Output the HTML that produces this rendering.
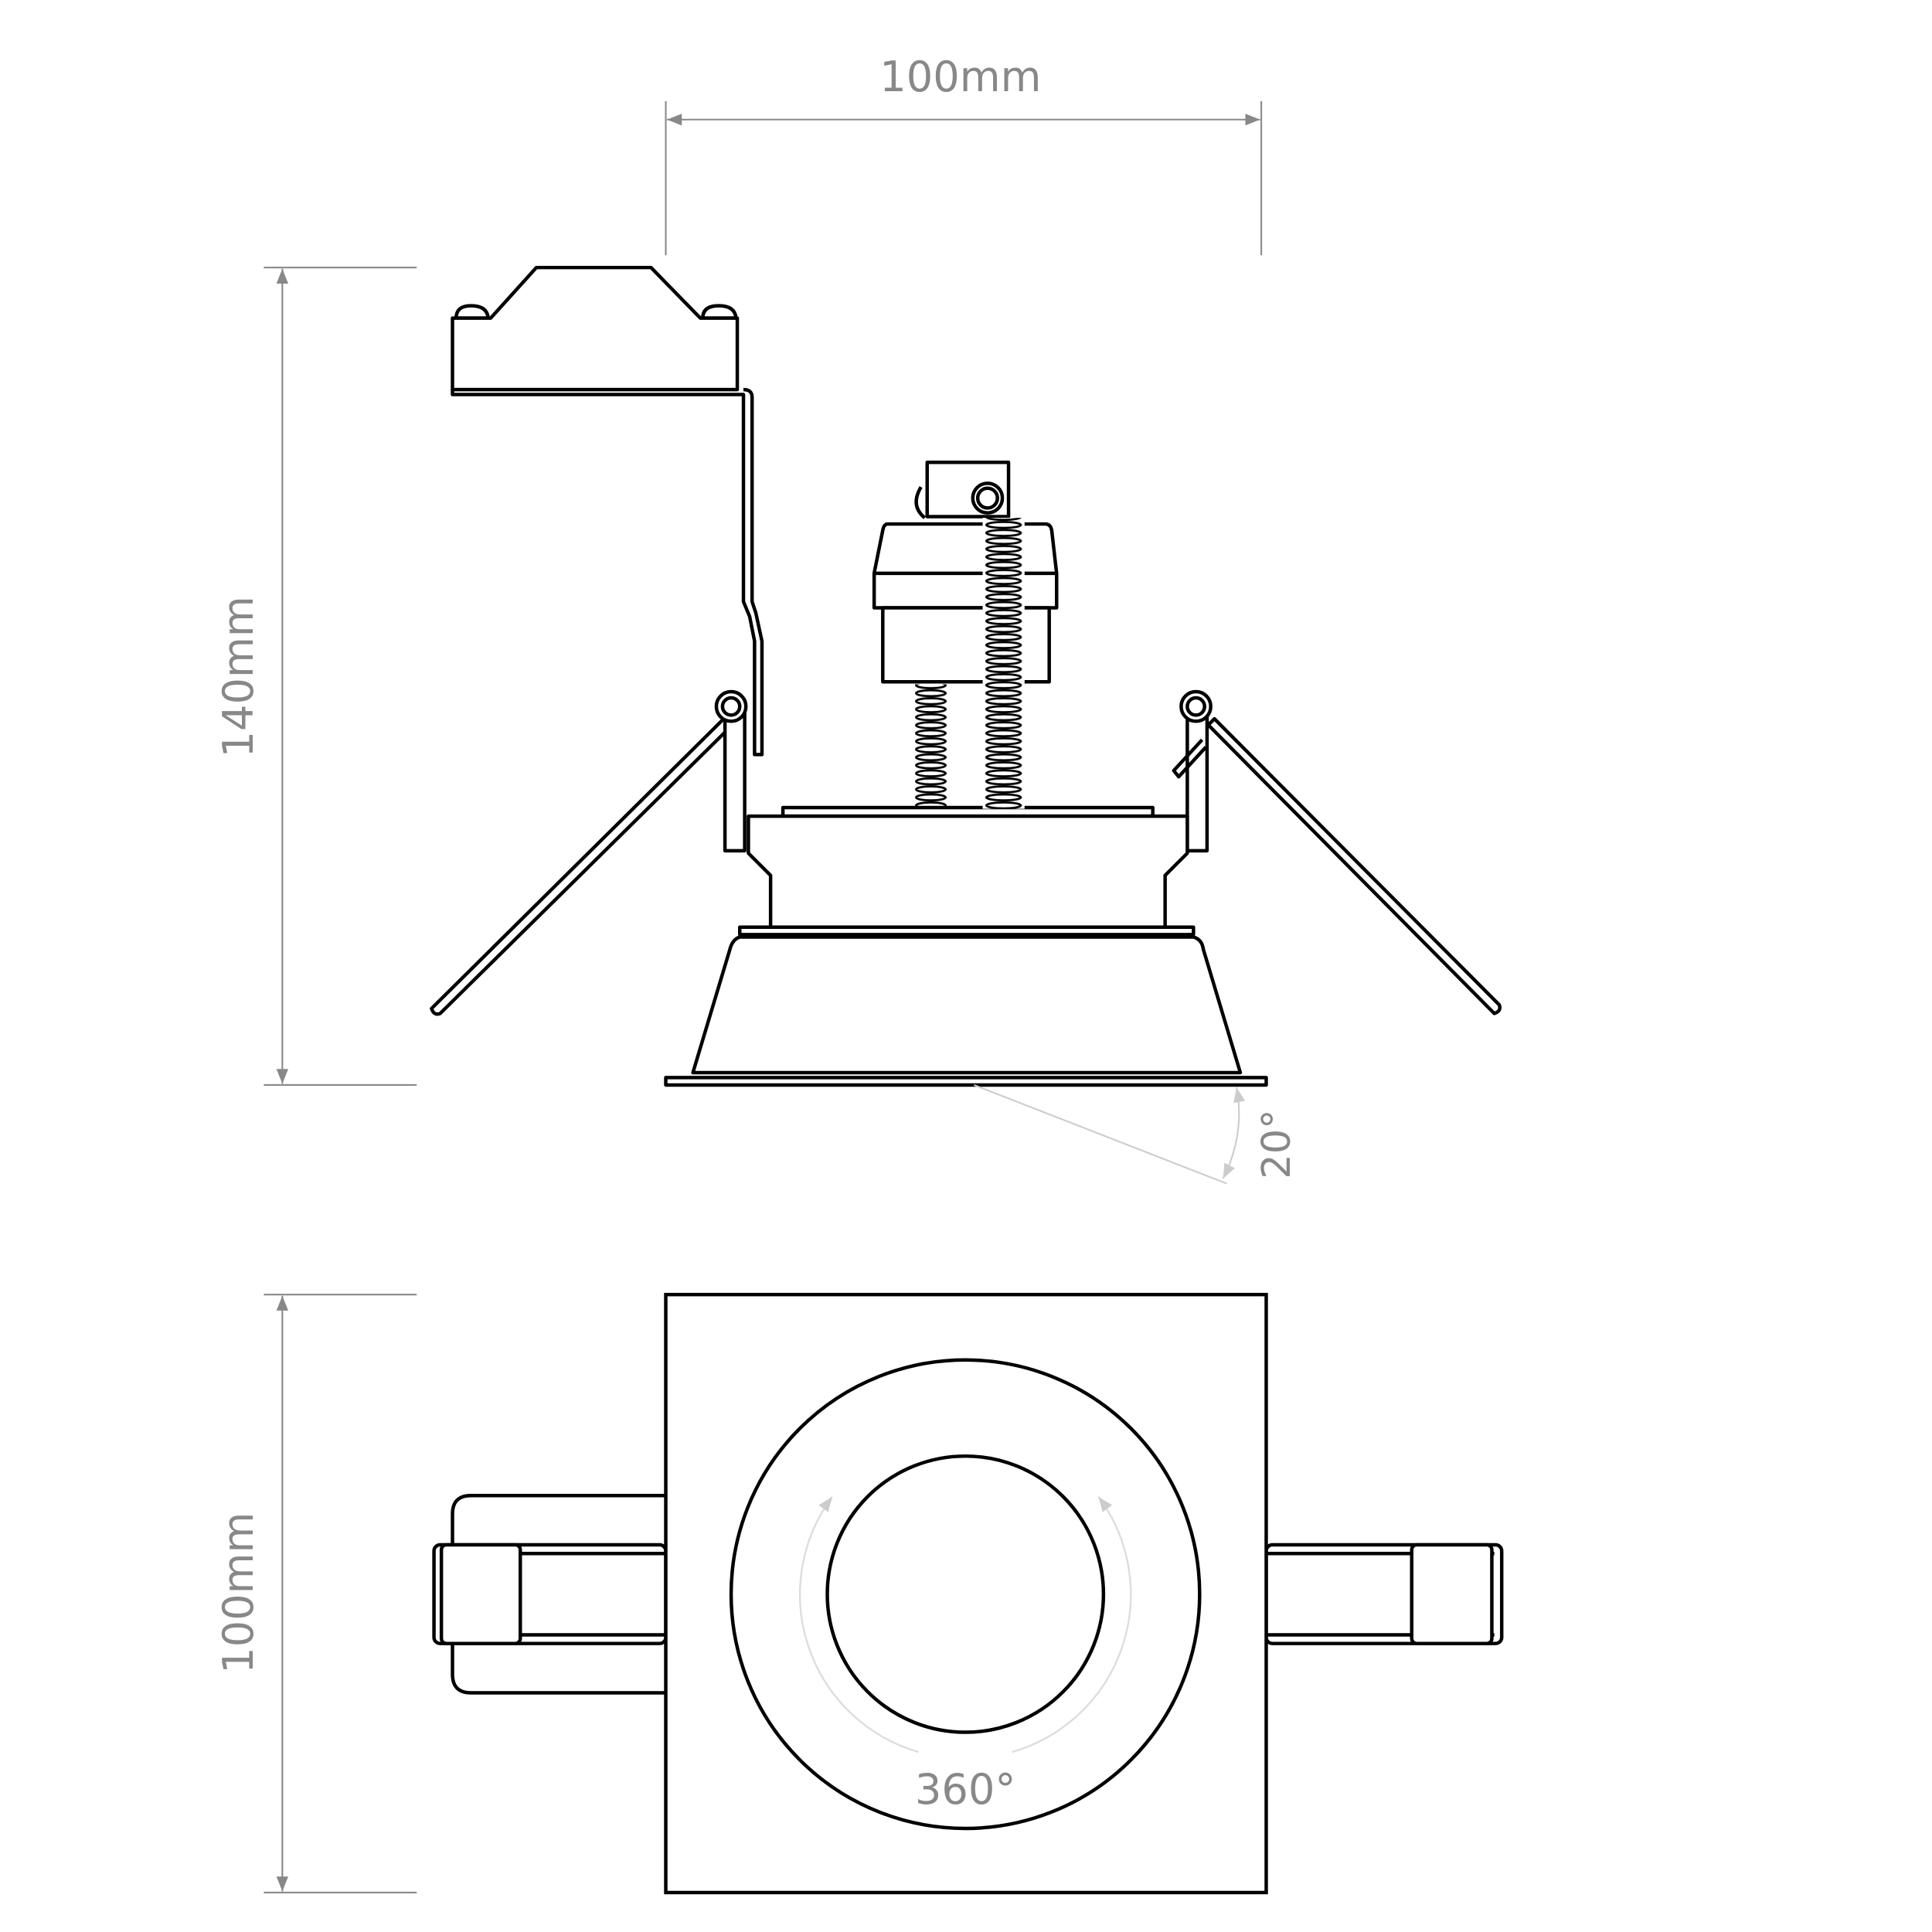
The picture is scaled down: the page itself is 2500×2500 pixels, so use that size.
<!DOCTYPE html>
<html><head><meta charset="utf-8"><style>
html,body{margin:0;padding:0;background:#fff;}
svg{display:block;}
</style></head><body>
<svg width="2500" height="2500" viewBox="0 0 1567 1567" xmlns="http://www.w3.org/2000/svg">
<defs>
<pattern id="coilL" x="740" y="0" width="30" height="6.5" patternUnits="userSpaceOnUse">
<ellipse cx="15" cy="3.25" rx="12" ry="2.4" fill="none" stroke="#000" stroke-width="1.7"/>
</pattern>
<pattern id="coilR" x="797" y="0" width="34" height="6.5" patternUnits="userSpaceOnUse">
<ellipse cx="17" cy="3.25" rx="14" ry="2.4" fill="none" stroke="#000" stroke-width="1.7"/>
</pattern>
<marker id="ar" viewBox="0 0 10 10" refX="10" refY="5" markerWidth="12" markerHeight="12" orient="auto-start-reverse" markerUnits="userSpaceOnUse"><path d="M0,1 L10,5 L0,9 z" fill="#888"/></marker>
<marker id="al" viewBox="0 0 10 10" refX="10" refY="5" markerWidth="12" markerHeight="12" orient="auto-start-reverse" markerUnits="userSpaceOnUse"><path d="M0,1 L10,5 L0,9 z" fill="#ccc"/></marker>
</defs>
<g font-family="'DejaVu Sans','Liberation Sans',sans-serif" fill="#888" font-size="34">
<g stroke="#888" stroke-width="1.3" fill="none">
<line x1="540" y1="82" x2="540" y2="207"/><line x1="1023" y1="82" x2="1023" y2="207"/>
<line x1="541" y1="97" x2="1022" y2="97" marker-start="url(#ar)" marker-end="url(#ar)"/>
<line x1="214" y1="217" x2="338" y2="217"/><line x1="214" y1="880" x2="338" y2="880"/>
<line x1="229" y1="218" x2="229" y2="879" marker-start="url(#ar)" marker-end="url(#ar)"/>
<line x1="214" y1="1050" x2="338" y2="1050"/><line x1="214" y1="1535" x2="338" y2="1535"/>
<line x1="229" y1="1051" x2="229" y2="1534" marker-start="url(#ar)" marker-end="url(#ar)"/>
</g>
<text x="779" y="74" text-anchor="middle">100mm</text>
<text transform="translate(205,549) rotate(-90)" text-anchor="middle">140mm</text>
<text transform="translate(205,1292) rotate(-90)" text-anchor="middle">100mm</text>
</g>

<g stroke="#000" stroke-width="2.8" fill="#fff" stroke-linejoin="round">
<path d="M370,258 Q370,248 382,248 Q395,248 396,258 Z"/>
<path d="M570,258 Q570,248 583,248 Q596,248 597,258 Z"/>
<path d="M367,258 L398,258 L435,217 L528,217 L568,258 L598,258 L598,316 L367,316 Z"/>
<path d="M367,316 L367,320 L603,320 L603,488 L608,500 L612,520 L612,612 L618,612 L618,520 L613,497 L610,488 L610,322 Q610,316 603,316" fill="none"/>
<path d="M588,582 L350,818 Q352,824 357,822 L594,588 Z"/>
<path d="M980,588 L1212,822 Q1218,820 1216,815 L985,583 Z"/>
<rect x="588" y="568" width="16" height="122"/>
<rect x="963" y="568" width="16" height="122"/>
<circle cx="593" cy="573" r="12"/><circle cx="593" cy="573" r="7"/>
<circle cx="970" cy="573" r="12"/><circle cx="970" cy="573" r="7"/>
<path d="M975,600 L952,625 L956,630 L978,606" fill="none"/>
<rect x="635" y="655" width="300" height="7"/>
<path d="M607,662 L963,662 L963,692 L945,710 L945,752 L625,752 L625,710 L607,692 Z"/>
<rect x="600" y="752" width="368" height="6"/>
<path d="M600,760 L968,760 Q975,762 976,770 L1006,870 L562,870 L592,770 Q594,762 600,760 Z"/>
<rect x="540" y="874" width="487" height="6"/>
<path d="M747,395 Q738,410 750,420" fill="none"/>
<rect x="752" y="375" width="66" height="44"/>
<path d="M720,425 L848,425 Q852,425 853,430 L857,465 L857,493 L709,493 L709,465 L716,430 Q717,425 720,425 Z"/>
<line x1="709" y1="465" x2="857" y2="465"/>
<rect x="716" y="493" width="135" height="60"/>
<circle cx="801" cy="404" r="12"/><circle cx="801" cy="404" r="8"/>
</g>
<rect x="740" y="555" width="30" height="100" fill="url(#coilL)"/>
<rect x="797" y="420" width="34" height="236" fill="#fff"/>
<rect x="797" y="420" width="34" height="236" fill="url(#coilR)"/>

<g stroke="#ccc" stroke-width="1.3" fill="none">
<line x1="790" y1="880" x2="995" y2="960"/>
<path d="M1003,882 Q1010,920 992,956" marker-start="url(#al)" marker-end="url(#al)"/>
</g>
<text transform="translate(1046,928) rotate(-90)" text-anchor="middle" font-family="'DejaVu Sans','Liberation Sans',sans-serif" font-size="32" fill="#888">20°</text>

<g stroke="#000" stroke-width="2.8" fill="#fff">
<path d="M540,1213 L382,1213 Q367,1213 367,1228 L367,1358 Q367,1373 382,1373 L540,1373" fill="none"/>
<rect x="352" y="1253" width="188" height="80" rx="5"/>
<line x1="358" y1="1260" x2="540" y2="1260"/><line x1="358" y1="1326" x2="540" y2="1326"/>
<rect x="358" y="1253" width="64" height="80" rx="4"/>
<rect x="1027" y="1253" width="191" height="80" rx="5"/>
<line x1="1027" y1="1260" x2="1212" y2="1260"/><line x1="1027" y1="1326" x2="1212" y2="1326"/>
<rect x="1145" y="1253" width="65" height="80" rx="4"/>
<rect x="540" y="1050" width="487" height="485"/>
<circle cx="783" cy="1293" r="190"/>
<circle cx="783" cy="1293" r="112"/>
</g>
<g stroke="#ddd" stroke-width="1.5" fill="none">
<path d="M745,1421 A133,133 0 0 1 675,1214" marker-end="url(#al)"/>
<path d="M821,1421 A133,133 0 0 0 891,1214" marker-end="url(#al)"/>
</g>
<text x="783" y="1463" text-anchor="middle" font-family="'DejaVu Sans','Liberation Sans',sans-serif" font-size="34" fill="#888">360°</text>
</svg>
</body></html>
